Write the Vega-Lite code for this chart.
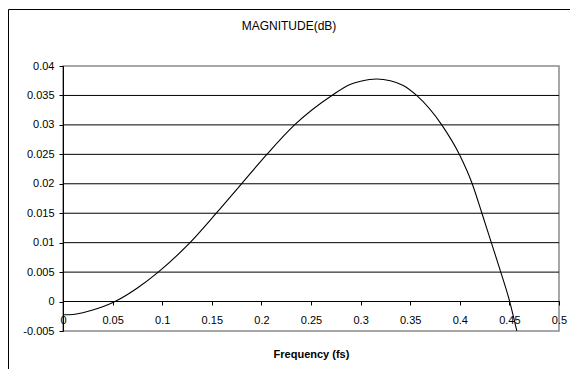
{
  "$schema": "https://vega.github.io/schema/vega-lite/v6.json",
  "width": 562,
  "height": 360,
  "autosize": {"type": "none"},
  "padding": {"left": 8, "top": 9, "right": 0, "bottom": 0},
  "background": "white",
  "config": {
    "view": {"stroke": "black", "strokeWidth": 1},
    "font": "Liberation Sans",
    "axis": {
      "labelOverlap": false,
      "labelFlush": false,
      "labelBound": false,
      "labelFont": "Liberation Sans",
      "labelFontSize": 11,
      "labelColor": "black",
      "domainColor": "black",
      "domainWidth": 1,
      "tickColor": "black",
      "tickSize": 4,
      "tickWidth": 1,
      "grid": false,
      "titleFont": "Liberation Sans",
      "titleFontSize": 11,
      "titleFontWeight": "bold",
      "titleColor": "black"
    }
  },
  "title": {
    "text": "MAGNITUDE(dB)",
    "font": "Liberation Sans",
    "fontSize": 12,
    "fontWeight": "normal",
    "color": "black",
    "anchor": "middle",
    "frame": "group",
    "offset": -24
  },
  "datasets": {
    "curve": [
      {"f": 0, "mag": -0.00225},
      {"f": 0.01, "mag": -0.0022},
      {"f": 0.02, "mag": -0.0019},
      {"f": 0.03, "mag": -0.00145},
      {"f": 0.04, "mag": -0.0009},
      {"f": 0.0524, "mag": 0},
      {"f": 0.075, "mag": 0.0023},
      {"f": 0.096, "mag": 0.005},
      {"f": 0.128, "mag": 0.01},
      {"f": 0.1545, "mag": 0.015},
      {"f": 0.18, "mag": 0.02},
      {"f": 0.2055, "mag": 0.025},
      {"f": 0.2334, "mag": 0.03},
      {"f": 0.2711, "mag": 0.035},
      {"f": 0.29, "mag": 0.0369},
      {"f": 0.3, "mag": 0.0374},
      {"f": 0.316, "mag": 0.0378},
      {"f": 0.33, "mag": 0.0375},
      {"f": 0.343, "mag": 0.0367},
      {"f": 0.3565, "mag": 0.035},
      {"f": 0.3818, "mag": 0.03},
      {"f": 0.3995, "mag": 0.025},
      {"f": 0.4125, "mag": 0.02},
      {"f": 0.4223, "mag": 0.015},
      {"f": 0.4318, "mag": 0.01},
      {"f": 0.4413, "mag": 0.005},
      {"f": 0.4503, "mag": 0},
      {"f": 0.4575, "mag": -0.005}
    ],
    "grid": [
      {"level": 0.005},
      {"level": 0.01},
      {"level": 0.015},
      {"level": 0.02},
      {"level": 0.025},
      {"level": 0.03},
      {"level": 0.035}
    ]
  },
  "layer": [
    {
      "data": {"values": [{"part": "plot area"}]},
      "mark": {"type": "rect", "fill": "white", "stroke": "#8a8a8a", "strokeWidth": 1.5},
      "encoding": {
        "x": {
          "datum": 0, "type": "quantitative",
          "scale": {"domain": [0, 0.5], "range": [55, 551], "nice": false, "zero": false},
          "axis": {"orient": "bottom", "offset": -68, "zindex": 1, "values": [0, 0.05, 0.1, 0.15, 0.2, 0.25, 0.3, 0.35, 0.4, 0.45, 0.5], "format": ".2~f", "labelOverlap": false, "labelFlush": false, "labelPadding": 9, "title": "Frequency (fs)", "titlePadding": 23}
        },
        "x2": {"datum": 0.5},
        "y": {
          "datum": -0.005, "type": "quantitative",
          "scale": {"domain": [-0.005, 0.04], "range": [322, 57], "nice": false, "zero": false},
          "axis": {"orient": "left", "offset": -55, "zindex": 1, "values": [-0.005, 0, 0.005, 0.01, 0.015, 0.02, 0.025, 0.03, 0.035, 0.04], "format": ".3~f", "labelExpr": "replace(datum.label, '\u2212', '-')", "labelOverlap": false, "labelFlush": false, "labelPadding": 5, "title": null}
        },
        "y2": {"datum": 0.04}
      }
    },
    {
      "data": {"name": "grid"},
      "mark": {"type": "rule", "color": "black", "strokeWidth": 1},
      "encoding": {
        "x": {
          "datum": 0, "type": "quantitative",
          "scale": {"domain": [0, 0.5], "range": [55, 551], "nice": false, "zero": false},
          "axis": {"orient": "bottom", "offset": -68, "zindex": 1, "values": [0, 0.05, 0.1, 0.15, 0.2, 0.25, 0.3, 0.35, 0.4, 0.45, 0.5], "format": ".2~f", "labelOverlap": false, "labelFlush": false, "labelPadding": 9, "title": "Frequency (fs)", "titlePadding": 23}
        },
        "x2": {"datum": 0.5},
        "y": {
          "field": "level", "type": "quantitative",
          "scale": {"domain": [-0.005, 0.04], "range": [322, 57], "nice": false, "zero": false},
          "axis": {"orient": "left", "offset": -55, "zindex": 1, "values": [-0.005, 0, 0.005, 0.01, 0.015, 0.02, 0.025, 0.03, 0.035, 0.04], "format": ".3~f", "labelExpr": "replace(datum.label, '\u2212', '-')", "labelOverlap": false, "labelFlush": false, "labelPadding": 5, "title": null}
        }
      }
    },
    {
      "data": {"name": "curve"},
      "mark": {"type": "line", "color": "black", "strokeWidth": 1.1, "interpolate": "monotone"},
      "encoding": {
        "x": {
          "field": "f", "type": "quantitative",
          "scale": {"domain": [0, 0.5], "range": [55, 551], "nice": false, "zero": false},
          "axis": {"orient": "bottom", "offset": -68, "zindex": 1, "values": [0, 0.05, 0.1, 0.15, 0.2, 0.25, 0.3, 0.35, 0.4, 0.45, 0.5], "format": ".2~f", "labelOverlap": false, "labelFlush": false, "labelPadding": 9, "title": "Frequency (fs)", "titlePadding": 23}
        },
        "y": {
          "field": "mag", "type": "quantitative",
          "scale": {"domain": [-0.005, 0.04], "range": [322, 57], "nice": false, "zero": false},
          "axis": {"orient": "left", "offset": -55, "zindex": 1, "values": [-0.005, 0, 0.005, 0.01, 0.015, 0.02, 0.025, 0.03, 0.035, 0.04], "format": ".3~f", "labelExpr": "replace(datum.label, '\u2212', '-')", "labelOverlap": false, "labelFlush": false, "labelPadding": 5, "title": null}
        }
      }
    }
  ]
}
